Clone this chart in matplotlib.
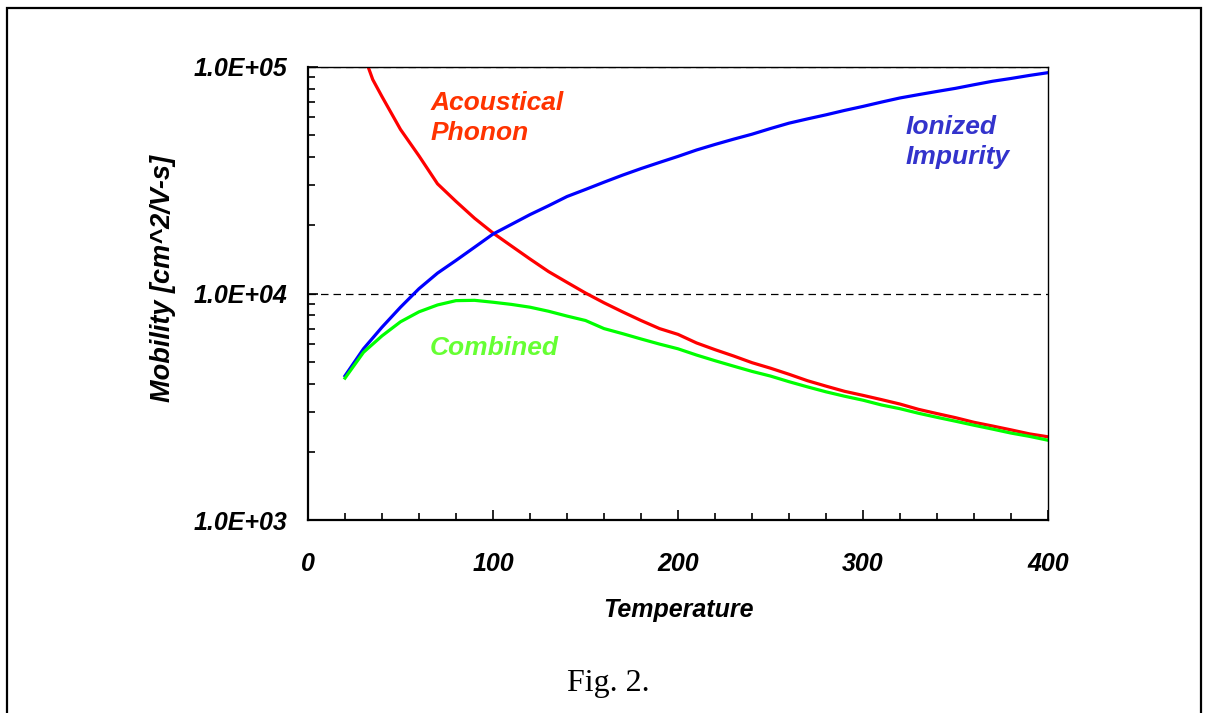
import numpy as np
import matplotlib
matplotlib.use("Agg")
import matplotlib.pyplot as plt
from matplotlib.patches import Rectangle
from matplotlib.ticker import FixedLocator, NullFormatter

# temperatures (K) and mobilities (cm^2/V-s)
temp = [20, 30, 40, 50, 60, 70, 80, 90, 100, 110, 120, 130, 140, 150, 160,
        170, 180, 190, 200, 210, 220, 230, 240, 250, 260, 270, 280, 290,
        300, 310, 320, 330, 340, 350, 360, 370, 380, 390, 400]

ionized = [4330, 5700, 7100, 8700, 10500, 12300, 14000, 16000, 18300, 20200,
           22300, 24400, 26800, 28800, 31000, 33300, 35600, 37900, 40300,
           43000, 45500, 48000, 50500, 53500, 56500, 59000, 61500, 64300,
           67000, 70000, 73000, 75500, 78000, 80500, 83500, 86500, 89000,
           91800, 94400]

temp_ac = [30, 35, 40, 50, 60, 70, 80, 90, 100, 110, 120, 130, 140, 150, 160,
           170, 180, 190, 200, 210, 220, 230, 240, 250, 260, 270, 280, 290,
           300, 310, 320, 330, 340, 350, 360, 370, 380, 390, 400]

acoustic = [114000, 88000, 74000, 53000, 40500, 30500, 25500, 21500, 18500,
            16200, 14200, 12500, 11200, 10050, 9100, 8300, 7600, 7000, 6600,
            6050, 5650, 5300, 4950, 4680, 4400, 4120, 3900, 3700, 3550, 3400,
            3250, 3080, 2950, 2830, 2700, 2600, 2500, 2400, 2330]

combined = [4230, 5500, 6500, 7500, 8300, 8900, 9300, 9330, 9150, 8950, 8700,
            8350, 7950, 7600, 7000, 6650, 6300, 5980, 5700, 5350, 5050, 4780,
            4530, 4320, 4080, 3870, 3680, 3520, 3380, 3220, 3100, 2960, 2840,
            2730, 2620, 2520, 2420, 2340, 2250]

x_ticks = [0, 100, 200, 300, 400]
y_ticks = [1e3, 1e4, 1e5]
y_labels = ['1.0E+03', '1.0E+04', '1.0E+05']

plt.rcParams['font.family'] = ['Liberation Sans', 'DejaVu Sans']

fig = plt.figure(figsize=(12.05, 7.13), dpi=100)
fig.patches.append(Rectangle((7 / 1205, -0.05), 1194 / 1205, 1.05 - 8 / 713,
                             transform=fig.transFigure, fill=False,
                             edgecolor='black', lw=1.6))

ax = fig.add_axes([308 / 1205, 1 - 520 / 713, 740 / 1205, 453 / 713])
ax.set_yscale('log')
ax.set_xlim(0, 400)
ax.set_ylim(1e3, 1e5)

ax.plot(temp_ac, acoustic, color='#FF0000', lw=2.3)
ax.plot(temp, ionized, color='#0000FF', lw=2.3)
ax.plot(temp, combined, color='#00FF00', lw=2.3)

for v in y_ticks[1:]:
    ax.axhline(v, color='black', lw=0.9, ls=(0, (6, 4)), zorder=0)

ax.set_xticks(x_ticks)
ax.set_xticklabels([str(t) for t in x_ticks])
ax.xaxis.set_minor_locator(FixedLocator(np.arange(0, 401, 20)))
ax.set_yticks(y_ticks)
ax.set_yticklabels(y_labels)
ax.yaxis.set_minor_locator(FixedLocator(
    [m * 10 ** e for e in (3, 4) for m in range(2, 10)]))
ax.yaxis.set_minor_formatter(NullFormatter())

ax.tick_params(which='both', direction='in', top=False, right=False,
               width=1.2, color='black')
ax.tick_params(which='major', length=7)
ax.tick_params(which='minor', length=5)
ax.tick_params(axis='y', which='major', pad=15)
ax.tick_params(axis='x', which='major', pad=23)
for lab in ax.get_xticklabels() + ax.get_yticklabels():
    lab.set_fontsize(18)
    lab.set_fontweight('bold')
    lab.set_fontstyle('italic')

ax.spines['left'].set_linewidth(1.6)
ax.spines['bottom'].set_linewidth(1.6)
ax.spines['top'].set_linewidth(1.0)
ax.spines['right'].set_linewidth(1.0)

lab_kw = dict(fontsize=19, fontweight='bold', fontstyle='italic',
              linespacing=1.3)
ax.text(66, 5.96e4, 'Acoustical\nPhonon', color='#FF3300', va='center',
        ha='left', **lab_kw)
ax.text(323, 4.67e4, 'Ionized\nImpurity', color='#3333CC', va='center',
        ha='left', **lab_kw)
ax.text(66, 5.74e3, 'Combined', color='#66FF33', va='center', ha='left',
        **lab_kw)

ax.set_xlabel('Temperature', fontsize=18, fontweight='bold',
              fontstyle='italic', labelpad=16)
fig.text(163 / 1205, 1 - 279 / 713, 'Mobility [cm^2/V-s]', rotation=90,
         ha='center', va='center', fontsize=19.5, fontweight='bold',
         fontstyle='italic')

fig.text(608 / 1205, 1 - 683 / 713, 'Fig. 2.', ha='center', va='center',
         fontsize=23, family=['Liberation Serif', 'DejaVu Serif'])

plt.savefig('out.png', dpi=100)
